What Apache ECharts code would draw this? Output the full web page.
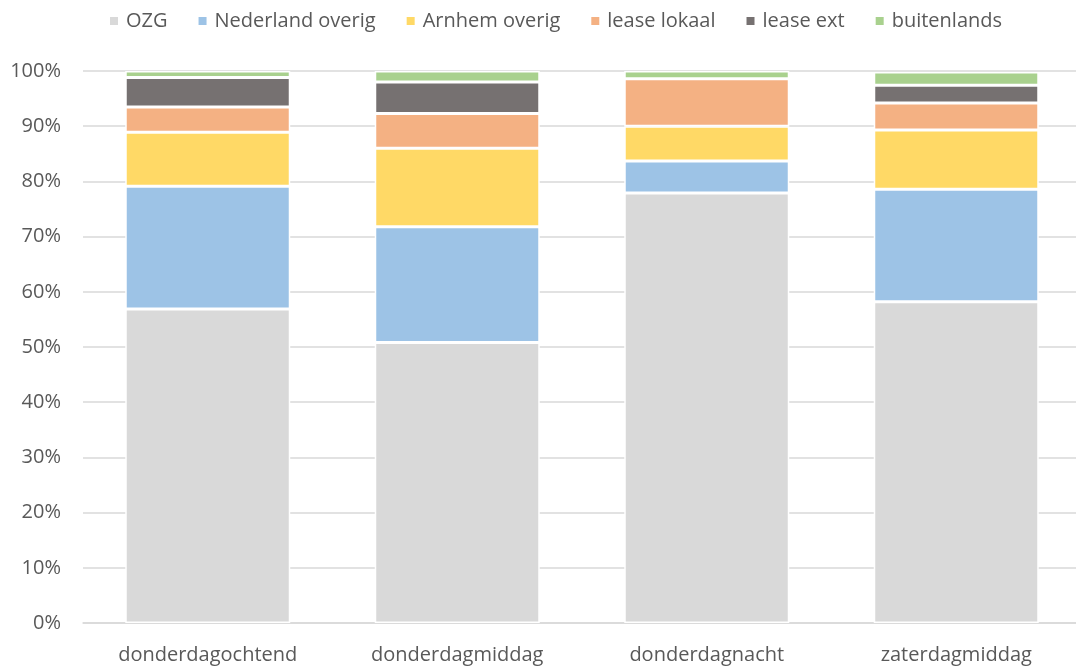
<!DOCTYPE html>
<html>
<head>
<meta charset="utf-8">
<script src="https://cdn.jsdelivr.net/npm/echarts@6/dist/echarts.min.js"></script>
<style>
  html, body { margin: 0; padding: 0; background: #fff; overflow: hidden; }
  #chart { width: 1081px; height: 668px; }
</style>
</head>
<body>
<div id="chart"></div>
<script>
// categorieen en aandelen (%) per herkomst
const categories = ['donderdagochtend', 'donderdagmiddag', 'donderdagnacht', 'zaterdagmiddag']
const ozg = [56.9, 50.8, 77.9, 58.2]
const nederlandOverig = [22.2, 21.0, 5.8, 20.4]
const arnhemOverig = [9.8, 14.2, 6.3, 10.7]
const leaseLokaal = [4.6, 6.3, 8.6, 4.9]
const leaseExt = [5.3, 5.7, 0, 3.2]
const buitenlands = [1.2, 2.0, 1.4, 2.4]

const seriesDefs = [
  { name: 'OZG', data: ozg, color: '#D9D9D9' },
  { name: 'Nederland overig', data: nederlandOverig, color: '#9DC3E6' },
  { name: 'Arnhem overig', data: arnhemOverig, color: '#FFD966' },
  { name: 'lease lokaal', data: leaseLokaal, color: '#F4B183' },
  { name: 'lease ext', data: leaseExt, color: '#767171' },
  { name: 'buitenlands', data: buitenlands, color: '#A9D18E' }
]

const font = '"Open Sans", Lato, sans-serif'
const myChart = echarts.init(document.getElementById('chart'))
myChart.setOption({
  animation: false,
  textStyle: { fontFamily: font },
  legend: {
    top: 6,
    left: 103,
    itemWidth: 10,
    itemHeight: 10,
    itemGap: 29,
    icon: 'rect',
    textStyle: { fontSize: 20, color: '#595959', fontFamily: font, padding: [0, 0, 0, 2] }
  },
  // plot loopt tot voorbij de rechterrand, net als in het origineel
  grid: {
    left: 83,
    top: 71,
    right: 0,
    bottom: 45
  },
  xAxis: {
    type: 'category',
    data: categories,
    axisLine: { lineStyle: { color: '#D9D9D9', width: 1.5 } },
    axisTick: { show: false },
    axisLabel: { fontSize: 20, color: '#595959', margin: 22, fontFamily: font }
  },
  yAxis: {
    type: 'value',
    min: 0,
    max: 100,
    interval: 10,
    axisLine: { show: false },
    axisTick: { show: false },
    splitLine: { lineStyle: { color: '#D9D9D9', width: 1.5 } },
    axisLabel: { formatter: '{value}%', fontSize: 20, color: '#595959', margin: 22, fontFamily: font }
  },
  series: seriesDefs.map(s => ({
    name: s.name,
    type: 'bar',
    stack: 'totaal',
    data: s.data,
    barWidth: 165,
    itemStyle: { color: s.color, borderColor: '#fff', borderWidth: 1.5 }
  }))
})
</script>
</body>
</html>
